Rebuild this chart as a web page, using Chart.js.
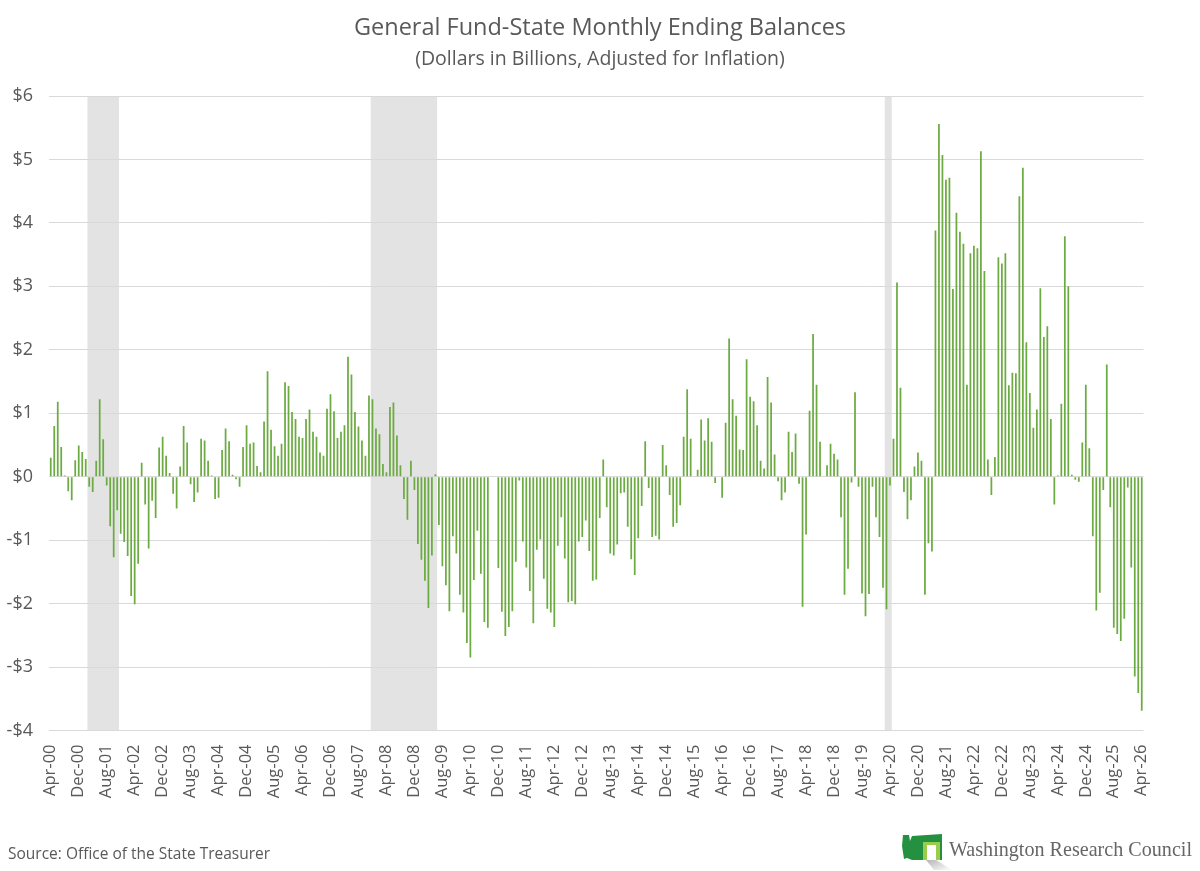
<!DOCTYPE html>
<html>
<head>
<meta charset="utf-8">
<script src="https://cdn.jsdelivr.net/npm/chart.js@4.4.0/dist/chart.umd.min.js"></script>
<style>
  html, body { margin: 0; padding: 0; background: #fff; }
  #wrap { position: relative; width: 1200px; height: 871px; font-family: "Open Sans", sans-serif; color: #595959; overflow: hidden; }
  #chart { position: absolute; left: 0; top: 0; }
  .title { position: absolute; left: 0; width: 1200px; text-align: center; line-height: 1; }
  #t1 { top: 15px; font-size: 23.5px; }
  #t2 { top: 48px; font-size: 19.5px; }
  #source { position: absolute; left: 8px; top: 846px; font-size: 15.5px; line-height: 1; }
  #logo { position: absolute; left: 900px; top: 832px; }
  #logoText { position: absolute; left: 949px; top: 838px; font-family: "Liberation Serif", serif; font-size: 22px; line-height: 1; color: #666; white-space: nowrap; transform-origin: left center; }
</style>
</head>
<body>
<div id="wrap">
  <canvas id="chart" width="1200" height="871"></canvas>
  <div class="title" id="t1">General Fund-State Monthly Ending Balances</div>
  <div class="title" id="t2">(Dollars in Billions, Adjusted for Inflation)</div>
  <div id="source">Source: Office of the State Treasurer</div>
  <svg id="logo" width="54" height="40" viewBox="0 0 54 40">
    <defs>
      <linearGradient id="shade" x1="0" y1="0" x2="1" y2="1">
        <stop offset="0" stop-color="#b5b5b5"/>
        <stop offset="1" stop-color="#ffffff"/>
      </linearGradient>
    </defs>
    <polygon points="26,28 36,28 52,38 34,38" fill="url(#shade)"/>
    <path d="M3,3 L9,3 L10,9 L12,4 L42,2 L42,28 L12,28 L7,26 L4,27 L2,14 Z" fill="#23913f"/>
    <rect x="23" y="10" width="17" height="18" fill="#9ccc4a"/>
    <rect x="27" y="13" width="9" height="15" fill="#fff"/>
  </svg>
  <div id="logoText">Washington Research Council</div>
</div>
<script>
// month-end balances, $ billions (inflation adjusted), Apr-00 .. Apr-26
const balances2000s = [
  0.30, 0.80, 1.18, 0.47, 0.02, -0.23, -0.37, 0.26, 0.49,                // 2000 (Apr-Dec)
  0.39, 0.28, -0.16, -0.24, 0.25, 1.22, 0.59, -0.14, -0.78, -1.27, -0.53, -0.90,
  -1.03, -1.25, -1.88, -2.01, -1.37, 0.22, -0.44, -1.13, -0.38, -0.65, 0.46, 0.63,
  0.33, 0.06, -0.27, -0.50, 0.16, 0.80, 0.54, -0.12, -0.40, -0.25, 0.60, 0.57,
  0.25, 0.02, -0.35, -0.33, 0.42, 0.76, 0.56, 0.03, -0.04, -0.16, 0.47, 0.81,
  0.52, 0.54, 0.17, 0.07, 0.87, 1.66, 0.74, 0.48, 0.33, 0.52, 1.49, 1.43,
  1.02, 0.91, 0.63, 0.61, 0.91, 1.06, 0.71, 0.63, 0.38, 0.33, 1.07, 1.30,
  1.03, 0.61, 0.71, 0.81, 1.89, 1.61, 1.02, 0.79, 0.57, 0.33, 1.28, 1.22,
  0.76, 0.67, 0.20, 0.07, 1.10, 1.17, 0.65, 0.18, -0.35, -0.68, 0.25, -0.21,
  -1.06, -1.31, -1.64, -2.07, -1.24, 0.04, -0.76, -1.41, -1.71, -2.12, -0.94, -1.21
];
const balances2010s = [
  -1.86, -2.14, -2.62, -2.85, -1.63, -0.85, -1.53, -2.29, -2.38, 0, 0, -1.44,
  -2.13, -2.51, -2.37, -2.12, -1.34, -0.06, -1.02, -1.43, -1.80, -2.31, -1.15, -0.99,
  -1.61, -2.08, -2.14, -2.37, -1.09, -0.64, -1.29, -1.98, -1.96, -2.01, -1.02, -0.95,
  -0.69, -1.17, -1.64, -1.62, -0.65, 0.27, -0.48, -1.21, -1.24, -1.07, -0.26, -0.25,
  -0.79, -1.30, -1.55, -0.97, -0.46, 0.56, -0.18, -0.95, -0.93, -0.99, 0.50, 0.18,
  -0.29, -0.79, -0.73, -0.45, 0.63, 1.38, 0.60, 0, 0.11, 0.90, 0.57, 0.92,
  0.55, -0.10, 0, -0.33, 0.85, 2.18, 1.22, 0.96, 0.43, 0.42, 1.85, 1.26,
  1.19, 0.81, 0.25, 0.13, 1.57, 1.17, 0.35, -0.07, -0.37, -0.25, 0.71, 0.39,
  0.68, -0.11, -2.05, -0.91, 1.04, 2.25, 1.45, 0.55, 0, 0.18, 0.52, 0.36,
  0.27, -0.64, -1.86, -1.45, -0.09, 1.33, -0.16, -1.84, -2.20, -1.85, -0.16, -0.64
];
const balances2020s = [
  -0.95, -1.75, -2.09, -0.14, 0.60, 3.06, 1.40, -0.24, -0.67, -0.37, 0.16, 0.38,
  0.25, -1.86, -1.05, -1.18, 3.88, 5.56, 5.07, 4.68, 4.71, 2.96, 4.16, 3.86,
  3.67, 1.45, 3.52, 3.64, 3.60, 5.13, 3.24, 0.27, -0.29, 0.31, 3.46, 3.36,
  3.52, 1.44, 1.64, 1.63, 4.42, 4.87, 2.12, 1.32, 0.77, 1.06, 2.97, 2.20,
  2.37, 0.91, -0.44, 0.02, 1.15, 3.79, 3.00, 0.03, -0.05, -0.08, 0.54, 1.45,
  0.45, -0.94, -2.11, -1.83, -0.21, 1.77, -0.48, -2.38, -2.48, -2.59, -2.24, -0.17,
  -1.43, -3.15, -3.41, -3.69                                                // 2026 (Jan-Apr)
];
const balances = balances2000s.concat(balances2010s, balances2020s);

const monthNames = ['Jan','Feb','Mar','Apr','May','Jun','Jul','Aug','Sep','Oct','Nov','Dec'];
const monthLabels = [];
for (let k = 0; k < balances.length; k++) {
  const m = (3 + k) % 12, y = 2000 + Math.floor((3 + k) / 12);
  monthLabels.push(monthNames[m] + '-' + String(y).slice(2));
}
const tickEvery = 8;

// shaded recession periods
const recessions = [['Mar-01', 'Nov-01'], ['Dec-07', 'Jun-09'], ['Mar-20', 'Apr-20']];

const recessionBands = {
  id: 'recessionBands',
  beforeDraw(chart) {
    const { ctx, chartArea, scales: { x } } = chart;
    const half = (x.getPixelForValue(1) - x.getPixelForValue(0)) / 2;
    ctx.save();
    ctx.fillStyle = '#e3e3e3';
    recessions.forEach(([a, b]) => {
      const x0 = x.getPixelForValue(monthLabels.indexOf(a)) - half;
      const x1 = x.getPixelForValue(monthLabels.indexOf(b)) + half;
      ctx.fillRect(x0, chartArea.top, x1 - x0, chartArea.bottom - chartArea.top);
    });
    ctx.restore();
  }
};

// squeeze the logo wordmark to its width in the original
const logoText = document.getElementById('logoText');
logoText.style.transform = 'scaleX(' + (243 / logoText.getBoundingClientRect().width) + ')';

Chart.defaults.font.family = '"Open Sans", sans-serif';
Chart.defaults.color = '#595959';

new Chart(document.getElementById('chart'), {
  type: 'bar',
  data: {
    labels: monthLabels,
    datasets: [{
      data: balances,
      backgroundColor: '#6cab42',
      barPercentage: 0.5,
      categoryPercentage: 1.0
    }]
  },
  options: {
    responsive: false,
    animation: false,
    layout: { padding: { top: 96, right: 56.5, bottom: 0, left: 0 } },
    plugins: { legend: { display: false }, tooltip: { enabled: false } },
    scales: {
      x: {
        grid: { display: false },
        border: { display: false },
        ticks: {
          autoSkip: false, minRotation: 90, maxRotation: 90, padding: 6,
          font: { size: 16.5 },
          callback: (v, i) => (i % tickEvery === 0 ? monthLabels[i] : '')
        },
        afterFit: s => { s.height = 871 - 730.5; }
      },
      y: {
        min: -4, max: 6,
        ticks: {
          stepSize: 1, padding: 16, font: { size: 18 },
          callback: v => (v < 0 ? '-$' : '$') + Math.abs(v)
        },
        grid: { color: '#d9d9d9', drawTicks: false },
        border: { display: false },
        afterFit: s => { s.width = 49; }
      }
    }
  },
  plugins: [recessionBands]
});
</script>
</body>
</html>
